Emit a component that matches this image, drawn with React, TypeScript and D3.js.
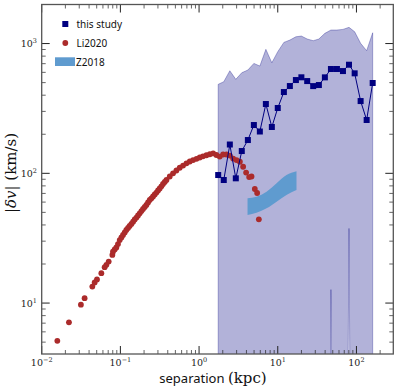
import React from 'react';
import * as d3 from 'd3';

const width = 399;
const height = 392;

// this study: separation (kpc), |dv| (km/s), and the shaded range
const sepThis = [1.75, 2.06, 2.46, 2.93, 3.49, 4.17, 4.97, 5.92, 7.06, 8.41, 10.0, 11.96, 14.25, 17.0,
  19.96, 23.66, 28.2, 33.3, 39.7, 47.4, 56.5, 67.4, 80.4, 94.9, 113, 134.8, 160.8];
const dvThis = [97, 88.8, 166.7, 91.5, 148.5, 180.5, 235.6, 210, 342, 227.5, 318.6, 423, 470.5, 523.4,
  549.5, 514, 470, 479, 549, 636.6, 636.6, 613.8, 687, 589.6, 360.5, 257.6, 496.6];
const dvUpper = [485, 508, 617, 530, 596, 625, 703, 671, 902, 711, 865, 1021, 1064, 1128,
  1142, 1084, 1052, 1084, 1199, 1271, 1271, 1286, 1333, 1233, 1004, 881, 1211];
const dvLower = [0, 0, 0, 0, 0, 0, 0, 0, 0, 0, 0, 0, 0, 0,
  0, 0, 0, 0, 0, 12.7, 0, 0, 37.6, 0, 0, 0, 0];

// Li2020
const sepLi = [0.0158, 0.0222, 0.0315, 0.0351, 0.044, 0.0471, 0.0504, 0.0573, 0.0631, 0.0664, 0.071, 0.0791,
  0.0805, 0.0846, 0.0889, 0.0932, 0.098, 0.103, 0.108, 0.1135, 0.119, 0.125, 0.131, 0.138, 0.145, 0.152,
  0.16, 0.1675, 0.176, 0.185, 0.194, 0.204, 0.214, 0.2245, 0.236, 0.248, 0.26, 0.273, 0.287, 0.301,
  0.316, 0.332, 0.348, 0.366, 0.385, 0.424, 0.467, 0.515, 0.568, 0.626, 0.691, 0.762, 0.839, 0.927,
  1.02, 1.12, 1.24, 1.37, 1.51, 1.66, 1.83, 2.02, 2.23, 2.46, 2.71, 2.99, 3.3, 3.63, 3.96, 4.33,
  4.64, 5.11, 5.47, 5.75];
const dvLi = [5.12, 7.11, 9.72, 10.9, 13.4, 14.4, 15.2, 17.0, 18.9, 19.7, 20.9, 23.5,
  24.9, 25.9, 26.8, 28.5, 30.6, 32.0, 33.5, 35.0, 36.6, 37.9, 39.3, 40.7, 42.4, 44.1,
  45.6, 47.3, 49.2, 51.2, 53.1, 55.0, 57.0, 59.6, 62.3, 64.2, 66.3, 68.7, 71.1, 73.7,
  76.4, 79.4, 82.7, 85.7, 88.8, 94.5, 100, 105.1, 110.4, 114.8, 119.4, 123.3, 126.5, 129.4,
  132.4, 135.2, 137.8, 140.3, 142.2, 138.4, 134.7, 139.6, 139.6, 137.1, 130.0, 126.5, 122.8, 112.4,
  101.4, 93.6, 94.5, 75.7, 70.5, 44.2];

// Z2018 band
const sepZ = [4.13, 5.37, 7.2, 9.66, 12.9, 17.3];
const dvZLo = [47.7, 49.7, 53.7, 60.4, 68.1, 74.3];
const dvZHi = [64.2, 66, 72.1, 83.8, 97, 103.6];

const xTickExp = [-2, -1, 0, 1, 2];
const yTickExp = [1, 2, 3];

const navy = '#000080';
const red = '#ab2b2b';
const zBlue = '#5f9bcf';

const App = () => {
  const x = d3.scaleLog().domain([0.01, 294]).range([41.7, 393.3]);
  const y = d3.scaleLog().domain([4.05, 2000]).range([354, 4.5]);
  const [x0, x1] = x.range();
  const [y0, y1] = y.range();

  const band = d3.area<number>()
    .x(i => x(sepThis[i]))
    .y0(i => y(Math.max(dvLower[i], 1e-6)))
    .y1(i => y(dvUpper[i]));

  const zBand = d3.area<number>()
    .x(i => x(sepZ[i]))
    .y0(i => y(dvZLo[i]))
    .y1(i => y(dvZHi[i]))
    .curve(d3.curveMonotoneX);

  const line = d3.line<number>()
    .x(i => x(sepThis[i]))
    .y(i => y(dvThis[i]));

  const isMajor = (t: number) => Math.abs(Math.log10(t) - Math.round(Math.log10(t))) < 1e-6;
  const xt = x.ticks();
  const yt = y.ticks();

  const idxThis = sepThis.map((_, i) => i);
  const idxZ = sepZ.map((_, i) => i);

  const tickStroke = '#222';
  const serif = 'DejaVu Serif';
  const sans = 'Noto Sans';

  return (
    <svg width={width} height={height} style={{ position: 'absolute', left: 0, top: 0 }}>
      <defs>
        <clipPath id="plot">
          <rect x={x0} y={y1} width={x1 - x0} height={y0 - y1} />
        </clipPath>
      </defs>
      <g clipPath="url(#plot)">
        <path d={band(idxThis) || ''} fill={navy} fillOpacity={0.3}
          stroke={navy} strokeOpacity={0.3} strokeWidth={1} />
        <path d={zBand(idxZ) || ''} fill={zBlue} />
        {sepLi.map((s, i) => (
          <circle key={i} cx={x(s)} cy={y(dvLi[i])} r={2.9} fill={red} />
        ))}
        <path d={line(idxThis) || ''} fill="none" stroke={navy} strokeWidth={1} />
        {sepThis.map((s, i) => (
          <rect key={i} x={x(s) - 3} y={y(dvThis[i]) - 3} width={6} height={6} fill={navy} />
        ))}
      </g>

      {/* ticks, inward, all sides */}
      {xt.map((t, i) => {
        const len = isMajor(t) ? 8 : 4;
        const px = x(t);
        return (
          <g key={'x' + i} stroke={tickStroke} strokeWidth={isMajor(t) ? 1 : 0.7}>
            <line x1={px} x2={px} y1={y0} y2={y0 - len} />
            <line x1={px} x2={px} y1={y1} y2={y1 + len} />
          </g>
        );
      })}
      {yt.map((t, i) => {
        const len = isMajor(t) ? 8 : 4;
        const py = y(t);
        return (
          <g key={'y' + i} stroke={tickStroke} strokeWidth={isMajor(t) ? 1 : 0.7}>
            <line x1={x0} x2={x0 + len} y1={py} y2={py} />
            <line x1={x1} x2={x1 - len} y1={py} y2={py} />
          </g>
        );
      })}
      <rect x={x0} y={y1} width={x1 - x0} height={y0 - y1} fill="none" stroke="#555" strokeWidth={1.3} />

      {/* tick labels */}
      {xTickExp.map(e => (
        <text key={'xl' + e} x={x(Math.pow(10, e))} y={365.5} textAnchor="middle"
          fontFamily={serif} fontSize={9.5} fill="#222">
          10<tspan fontSize={6.5} dy={-4}>{e < 0 ? '\u2212' + Math.abs(e) : e}</tspan>
        </text>
      ))}
      {yTickExp.map(e => (
        <text key={'yl' + e} x={37} y={y(Math.pow(10, e)) + 3.5} textAnchor="end"
          fontFamily={serif} fontSize={9.5} fill="#222">
          10<tspan fontSize={6.5} dy={-4}>{e}</tspan>
        </text>
      ))}

      {/* axis labels */}
      <text x={213} y={383} textAnchor="middle" fill="#111">
        <tspan fontFamily={sans} fontSize={13}>separation </tspan>
        <tspan fontFamily={serif} fontSize={15}>(kpc)</tspan>
      </text>
      <text transform="translate(16,173) rotate(-90)" textAnchor="middle" fontFamily={serif}
        fontSize={15} fill="#111">
        |<tspan fontStyle="italic">δv</tspan>| (km/s)
      </text>

      {/* legend */}
      <rect x={62.3} y={21} width={6} height={6} fill={navy} />
      <text x={76.5} y={27.5} fontFamily={sans} fontSize={10} fill="#111">this study</text>
      <circle cx={65.3} cy={43} r={2.9} fill={red} />
      <text x={76.5} y={47} fontFamily={sans} fontSize={10} fill="#111">Li2020</text>
      <rect x={55} y={57.3} width={20} height={8.7} fill={zBlue} />
      <text x={76} y={66} fontFamily={sans} fontSize={10} fill="#111">Z2018</text>
    </svg>
  );
};

export default App;
